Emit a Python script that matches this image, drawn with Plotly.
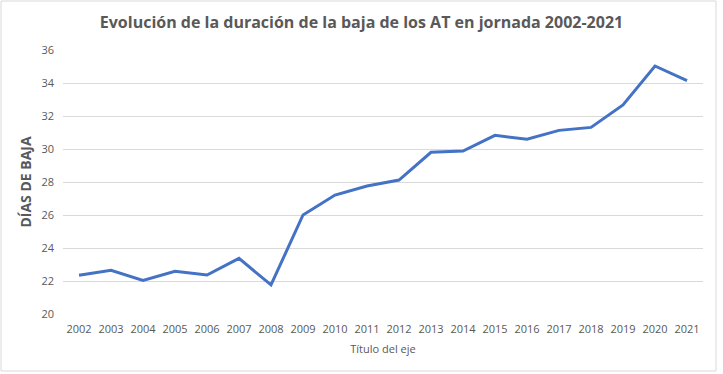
import plotly.graph_objects as go

years = [str(y) for y in range(2002, 2022)]
dias_baja = [22.35, 22.65, 22.04, 22.59, 22.36, 23.37, 21.76, 26.0, 27.21, 27.76,
             28.12, 29.8, 29.88, 30.83, 30.59, 31.13, 31.31, 32.67, 35.03, 34.14]
y_ticks = [20, 22, 24, 26, 28, 30, 32, 34, 36]

title_text = "Evolución de la duración de la baja de los AT en jornada 2002-2021"
x_title = "Título del eje"
y_title = "DÍAS DE BAJA"

gray = "#595959"
font_family = "Open Sans, Noto Sans, sans-serif"

fig = go.Figure()
fig.add_trace(go.Scatter(
    x=years, y=dias_baja, mode="lines",
    line=dict(color="#4472C4", width=3),
    showlegend=False, hoverinfo="x+y",
))

L, R, T, B = 63, 723 - 703, 50, 374 - 314
fig.update_layout(
    width=723, height=374,
    margin=dict(l=L, r=R, t=T, b=B),
    paper_bgcolor="white", plot_bgcolor="white",
    font=dict(family=font_family, color=gray, size=11),
    title=dict(text="<b>" + title_text + "</b>", x=0.5, xanchor="center",
               y=1 - 22 / 374, yanchor="middle",
               font=dict(size=16, color=gray, family=font_family)),
    xaxis=dict(type="category", range=[-0.5, 19.5], showgrid=False, zeroline=False,
               showline=False, ticks="", tickfont=dict(size=11, color=gray),
               ticklabelstandoff=7,
               title=dict(text=x_title, font=dict(size=11, color=gray), standoff=10)),
    yaxis=dict(range=[20, 36], tickvals=y_ticks, showgrid=True, gridcolor="#D9D9D9",
               gridwidth=1, zeroline=False, showline=False, ticks="",
               tickfont=dict(size=11, color=gray), ticklabelstandoff=8,
               title=dict(text="<b>" + y_title + "</b>", font=dict(size=14, color=gray),
                          standoff=6)),
)

fig.add_shape(type="rect", xref="paper", yref="paper",
              x0=(1 - 63) / 640, x1=(716 - 63) / 640,
              y0=(314 - 371) / 264, y1=(314 - 1) / 264,
              line=dict(color="#D9D9D9", width=1), fillcolor="rgba(0,0,0,0)", layer="below")

fig.write_html("out.html", config={"displayModeBar": False},
               post_script="document.body.style.margin='0';")
